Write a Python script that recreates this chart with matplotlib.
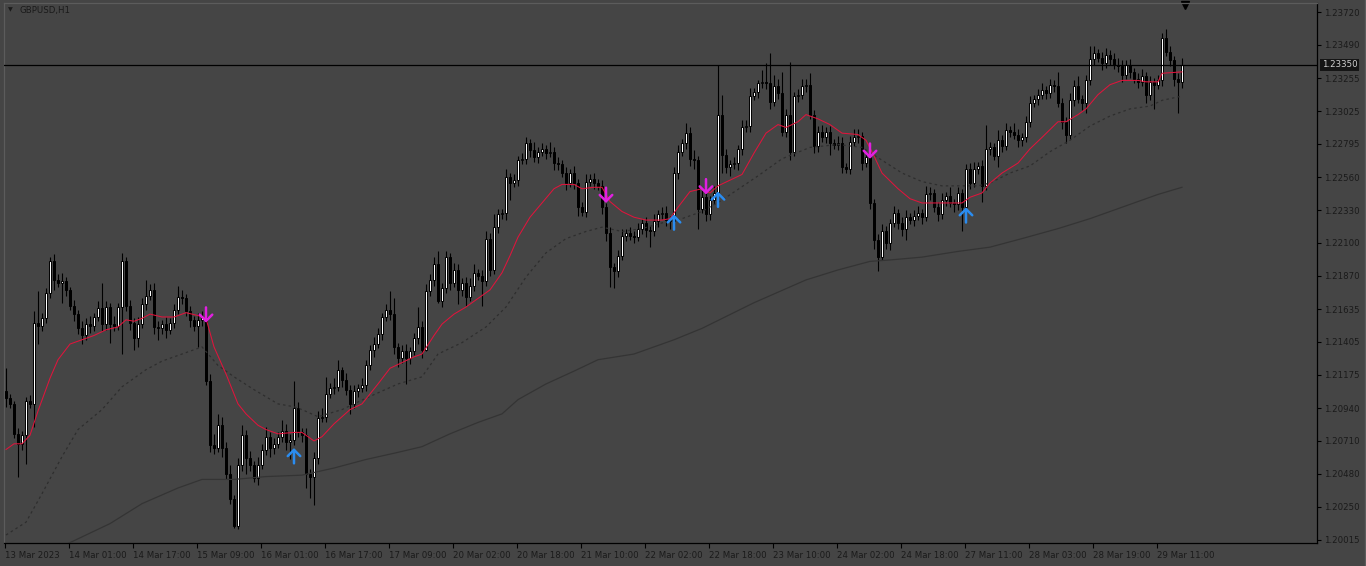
import numpy as np
import matplotlib
matplotlib.use('Agg')
import matplotlib.pyplot as plt
from matplotlib.transforms import blended_transform_factory

# GBPUSD H1, 13 Mar - 29 Mar 2023
symbol = 'GBPUSD,H1'
first_open = 1.2106
closes = [
    1.2101, 1.2097, 1.2076, 1.2069, 1.2075, 1.2099, 1.2097, 1.2154, 1.2152, 1.2157, 1.2175, 1.2197, 1.2184, 1.2182, 1.2183, 1.2177, 1.2166, 1.2160, 1.2150, 1.2145,
    1.2153, 1.2152, 1.2158, 1.2164, 1.2153, 1.2165, 1.2153, 1.2152, 1.2165, 1.2197, 1.2166, 1.2154, 1.2143, 1.2153, 1.2167, 1.2173, 1.2177, 1.2151, 1.2150, 1.2153,
    1.2149, 1.2154, 1.2163, 1.2172, 1.2171, 1.2162, 1.2156, 1.2152, 1.2156, 1.2158, 1.2113, 1.2068, 1.2066, 1.2082, 1.2066, 1.2048, 1.2030, 1.2011, 1.2054, 1.2075,
    1.2059, 1.2054, 1.2045, 1.2054, 1.2065, 1.2074, 1.2066, 1.2069, 1.2074, 1.2078, 1.2070, 1.2072, 1.2094, 1.2077, 1.2075, 1.2048, 1.2046, 1.2059, 1.2087, 1.2088,
    1.2104, 1.2108, 1.2109, 1.2121, 1.2114, 1.2107, 1.2097, 1.2106, 1.2108, 1.2110, 1.2124, 1.2135, 1.2139, 1.2146, 1.2158, 1.2163, 1.2160, 1.2137, 1.2129, 1.2134,
    1.2129, 1.2134, 1.2143, 1.2151, 1.2135, 1.2176, 1.2184, 1.2195, 1.2169, 1.2178, 1.2200, 1.2182, 1.2191, 1.2177, 1.2182, 1.2172, 1.2180, 1.2189, 1.2187, 1.2183,
    1.2213, 1.2191, 1.2221, 1.2230, 1.2231, 1.2256, 1.2252, 1.2254, 1.2268, 1.2269, 1.2280, 1.2275, 1.2270, 1.2274, 1.2276, 1.2273, 1.2274, 1.2266, 1.2265, 1.2259,
    1.2252, 1.2259, 1.2252, 1.2235, 1.2232, 1.2253, 1.2255, 1.2252, 1.2250, 1.2235, 1.2217, 1.2193, 1.2190, 1.2201, 1.2215, 1.2217, 1.2215, 1.2214, 1.2220, 1.2224,
    1.2219, 1.2218, 1.2225, 1.2230, 1.2231, 1.2226, 1.2225, 1.2259, 1.2274, 1.2280, 1.2287, 1.2269, 1.2268, 1.2234, 1.2242, 1.2230, 1.2240, 1.2245, 1.2300, 1.2272,
    1.2263, 1.2265, 1.2266, 1.2276, 1.2291, 1.2292, 1.2313, 1.2316, 1.2322, 1.2323, 1.2322, 1.2309, 1.2320, 1.2315, 1.2288, 1.2300, 1.2274, 1.2313, 1.2314, 1.2320,
    1.2321, 1.2300, 1.2278, 1.2288, 1.2284, 1.2288, 1.2280, 1.2279, 1.2280, 1.2263, 1.2262, 1.2281, 1.2284, 1.2285, 1.2266, 1.2270, 1.2238, 1.2212, 1.2200, 1.2218,
    1.2210, 1.2224, 1.2231, 1.2224, 1.2220, 1.2228, 1.2226, 1.2229, 1.2231, 1.2228, 1.2244, 1.2245, 1.2235, 1.2230, 1.2240, 1.2243, 1.2238, 1.2237, 1.2245, 1.2235,
    1.2262, 1.2252, 1.2262, 1.2264, 1.2250, 1.2276, 1.2277, 1.2271, 1.2282, 1.2278, 1.2289, 1.2288, 1.2286, 1.2282, 1.2284, 1.2295, 1.2308, 1.2311, 1.2314, 1.2317,
    1.2315, 1.2321, 1.2320, 1.2308, 1.2295, 1.2286, 1.2310, 1.2320, 1.2311, 1.2308, 1.2324, 1.2339, 1.2343, 1.2340, 1.2336, 1.2342, 1.2339, 1.2335, 1.2334, 1.2328,
    1.2335, 1.2330, 1.2325, 1.2323, 1.2327, 1.2314, 1.2323, 1.2321, 1.2324, 1.2354, 1.2344, 1.2338, 1.2325, 1.2323, 1.2335,
]
# wick lengths in pips above / below the body
upper_wick = [
    16, 3, 2, 4, 3, 3, 4, 8, 22, 4, 3, 3, 5, 4, 6, 3, 2, 4, 3, 5,
    4, 6, 3, 5, 18, 4, 3, 6, 3, 6, 3, 4, 3, 5, 4, 11, 4, 5, 4, 3,
    5, 3, 4, 8, 5, 3, 4, 3, 5, 4, 7, 5, 8, 8, 6, 4, 6, 3, 5, 7,
    4, 5, 3, 6, 4, 7, 3, 4, 3, 8, 5, 4, 19, 4, 3, 5, 3, 4, 5, 6,
    12, 4, 6, 7, 2, 5, 3, 4, 3, 5, 4, 3, 5, 4, 3, 4, 13, 11, 3, 4,
    5, 3, 4, 14, 4, 5, 4, 5, 9, 4, 4, 3, 5, 4, 3, 4, 5, 6, 3, 4,
    5, 4, 9, 4, 3, 6, 3, 4, 3, 4, 4, 3, 6, 3, 4, 3, 7, 3, 4, 3,
    4, 3, 5, 3, 4, 5, 3, 4, 3, 4, 3, 4, 3, 4, 5, 3, 4, 3, 4, 3,
    4, 3, 5, 3, 4, 5, 3, 4, 5, 3, 7, 4, 6, 3, 5, 4, 3, 5, 35, 14,
    4, 3, 4, 3, 5, 4, 6, 3, 2, 8, 13, 21, 8, 5, 15, 4, 37, 3, 4, 5,
    4, 8, 3, 4, 5, 3, 4, 3, 5, 4, 3, 4, 6, 5, 3, 4, 8, 3, 4, 5,
    4, 3, 5, 3, 4, 5, 3, 4, 5, 3, 6, 4, 3, 4, 5, 3, 6, 3, 4, 3,
    3, 4, 5, 3, 4, 17, 4, 3, 7, 4, 5, 3, 6, 4, 3, 4, 5, 3, 4, 5,
    3, 4, 3, 10, 4, 3, 5, 4, 7, 3, 4, 9, 5, 3, 4, 5, 3, 4, 5, 4,
    3, 4, 3, 4, 5, 3, 4, 3, 4, 3, 6, 4, 3, 4, 5,
]
lower_wick = [
    6, 3, 3, 23, 4, 20, 3, 16, 13, 4, 3, 4, 7, 3, 14, 4, 3, 5, 4, 6,
    3, 5, 4, 3, 5, 4, 13, 4, 3, 33, 4, 5, 8, 6, 3, 4, 3, 5, 8, 4,
    6, 3, 4, 3, 4, 3, 5, 4, 15, 4, 3, 5, 4, 3, 6, 4, 3, 1, 2, 4,
    11, 4, 3, 5, 3, 4, 6, 4, 3, 4, 5, 12, 4, 3, 5, 10, 15, 20, 4, 3,
    4, 3, 4, 3, 5, 4, 7, 3, 4, 3, 4, 3, 5, 3, 4, 3, 4, 5, 6, 3,
    18, 4, 3, 4, 6, 1, 3, 4, 1, 4, 3, 5, 3, 10, 4, 6, 3, 4, 3, 17,
    3, 4, 3, 4, 3, 5, 12, 3, 4, 3, 4, 5, 3, 4, 3, 4, 3, 5, 4, 3,
    5, 3, 4, 6, 3, 4, 3, 4, 3, 5, 6, 14, 12, 4, 3, 4, 3, 4, 3, 4,
    5, 11, 3, 4, 3, 4, 5, 3, 4, 3, 4, 5, 6, 14, 3, 5, 4, 3, 3, 13,
    4, 6, 3, 5, 4, 3, 4, 3, 4, 3, 4, 5, 3, 4, 3, 4, 6, 3, 4, 3,
    4, 3, 5, 4, 3, 4, 8, 3, 4, 4, 3, 4, 3, 4, 5, 3, 4, 6, 10, 2,
    4, 5, 3, 4, 5, 8, 3, 4, 3, 5, 3, 4, 3, 5, 3, 4, 3, 5, 4, 17,
    3, 4, 3, 4, 11, 3, 4, 3, 8, 4, 3, 4, 3, 5, 4, 3, 4, 3, 4, 3,
    4, 3, 4, 3, 5, 6, 3, 4, 3, 5, 7, 3, 4, 3, 5, 3, 4, 3, 4, 5,
    3, 4, 3, 4, 3, 6, 4, 17, 3, 4, 3, 4, 5, 22, 4,
]

# indicator lines, read at sample bars
fast_ma_bars = [0, 2, 4, 6, 8, 11, 13, 16, 19, 22, 25, 28, 30, 32, 34, 36, 39, 42, 45, 48,
                50, 52, 55, 58, 60, 63, 65, 68, 72, 74, 77, 79, 82, 86, 89, 93, 96, 99, 102, 104,
                107, 109, 112, 115, 118, 121, 124, 126, 128, 131, 134, 137, 139, 142, 144, 147, 149, 151, 154, 157,
                160, 164, 166, 168, 171, 174, 176, 178, 181, 184, 187, 190, 193, 195, 198, 200, 203, 206, 209, 213,
                215, 217, 219, 223, 226, 229, 233, 236, 239, 241, 244, 246, 249, 253, 256, 259, 263, 265, 268, 270,
                273, 276, 279, 283, 285, 288, 289, 294]
fast_ma_vals = [1.2065, 1.2069, 1.2069, 1.2075, 1.2092, 1.2115, 1.2128, 1.2139, 1.2142, 1.2145, 1.2149, 1.2151, 1.2156, 1.2155, 1.2157, 1.2160, 1.2158, 1.2158, 1.2161, 1.2159,
                1.2157, 1.2137, 1.2118, 1.2097, 1.2090, 1.2082, 1.2079, 1.2076, 1.2077, 1.2077, 1.2071, 1.2074, 1.2083, 1.2093, 1.2097, 1.2111, 1.2122, 1.2126, 1.2130, 1.2132,
                1.2145, 1.2153, 1.2160, 1.2165, 1.2171, 1.2177, 1.2189, 1.2201, 1.2214, 1.2228, 1.2238, 1.2248, 1.2251, 1.2251, 1.2248, 1.2249, 1.2249, 1.2239, 1.2232, 1.2228,
                1.2226, 1.2226, 1.2227, 1.2235, 1.2246, 1.2248, 1.2245, 1.2250, 1.2254, 1.2258, 1.2273, 1.2287, 1.2293, 1.2291, 1.2295, 1.2300, 1.2297, 1.2293, 1.2287, 1.2286,
                1.2282, 1.2271, 1.2259, 1.2248, 1.2241, 1.2238, 1.2238, 1.2238, 1.2238, 1.2242, 1.2245, 1.2252, 1.2259, 1.2266, 1.2276, 1.2284, 1.2295, 1.2295, 1.2300, 1.2304,
                1.2314, 1.2321, 1.2324, 1.2324, 1.2323, 1.2323, 1.2329, 1.2330]

mid_ma_bars = [0, 5, 9, 14, 18, 24, 29, 35, 39, 44, 49, 53, 57, 62, 68, 72, 74, 78, 84, 90,
               98, 104, 108, 114, 120, 125, 130, 135, 140, 145, 149, 154, 159, 164, 169, 174, 179, 188, 194, 201,
               208, 214, 219, 224, 229, 234, 239, 243, 246, 251, 256, 261, 266, 271, 276, 281, 286, 289, 294]
mid_ma_vals = [1.2005, 1.2014, 1.2034, 1.2060, 1.2079, 1.2093, 1.2109, 1.2121, 1.2127, 1.2132, 1.2137, 1.2124, 1.2116, 1.2107, 1.2097, 1.2095, 1.2093, 1.2088, 1.2093, 1.2101,
               1.2111, 1.2116, 1.2132, 1.2140, 1.2151, 1.2165, 1.2186, 1.2203, 1.2213, 1.2218, 1.2221, 1.2218, 1.2220, 1.2224, 1.2227, 1.2232, 1.2240, 1.2257, 1.2269, 1.2277,
               1.2279, 1.2277, 1.2268, 1.2259, 1.2253, 1.2250, 1.2250, 1.2250, 1.2252, 1.2259, 1.2264, 1.2274, 1.2282, 1.2292, 1.2299, 1.2304, 1.2306, 1.2310, 1.2313]

slow_ma_bars = [14, 26, 34, 43, 49, 57, 65, 74, 82, 90, 98, 104, 111, 118, 124, 128, 135, 142, 148, 157,
                162, 167, 174, 187, 200, 208, 216, 221, 229, 238, 246, 254, 263, 271, 279, 288, 294]
slow_ma_vals = [1.1997, 1.2013, 1.2027, 1.2038, 1.2044, 1.2044, 1.2046, 1.2047, 1.2052, 1.2058, 1.2063, 1.2067, 1.2076, 1.2084, 1.2090, 1.2100, 1.2111, 1.2120, 1.2128, 1.2132,
                1.2137, 1.2142, 1.2150, 1.2168, 1.2184, 1.2191, 1.2197, 1.2198, 1.2200, 1.2204, 1.2207, 1.2213, 1.2220, 1.2227, 1.2235, 1.2244, 1.2249]

sell_bars = [50, 150, 175, 216]
sell_prices = [1.2154, 1.2238, 1.2244, 1.2269]
buy_bars = [72, 167, 178, 240]
buy_prices = [1.2066, 1.2230, 1.2246, 1.2235]

time_labels = ['13 Mar 2023', '14 Mar 01:00', '14 Mar 17:00', '15 Mar 09:00', '16 Mar 01:00',
               '16 Mar 17:00', '17 Mar 09:00', '20 Mar 02:00', '20 Mar 18:00', '21 Mar 10:00',
               '22 Mar 02:00', '22 Mar 18:00', '23 Mar 10:00', '24 Mar 02:00', '24 Mar 18:00',
               '27 Mar 11:00', '28 Mar 03:00', '28 Mar 19:00', '29 Mar 11:00']
price_ticks = [1.23720, 1.23490, 1.23255, 1.23025, 1.22795, 1.22560, 1.22330, 1.22100, 1.21870,
               1.21635, 1.21405, 1.21175, 1.20940, 1.20710, 1.20480, 1.20250, 1.20015]
last_price = 1.23350

bg = '#454545'
txt = '#1a1a1a'
plt.rcParams['font.family'] = ['DejaVu Sans']

closes = np.array(closes)
opens = np.r_[first_open, closes[:-1]]
highs = np.maximum(opens, closes) + np.array(upper_wick) * 0.0001
lows = np.minimum(opens, closes) - np.array(lower_wick) * 0.0001
x = np.arange(len(closes))
bull = closes >= opens

fig = plt.figure(figsize=(13.66, 5.66), dpi=100, facecolor=bg)
ax = fig.add_axes([4 / 1366, 23 / 566, 1313 / 1366, 540 / 566], facecolor=bg)

# candles
ax.vlines(x, lows, highs, color='black', lw=0.8, zorder=2)
body_lo = np.minimum(opens, closes)
body_h = np.maximum(np.abs(closes - opens), 0.00002)
ax.bar(x[bull], body_h[bull], bottom=body_lo[bull], width=0.72,
       color='white', edgecolor='black', lw=0.7, zorder=3)
ax.bar(x[~bull], body_h[~bull], bottom=body_lo[~bull], width=0.72,
       color='black', edgecolor='black', lw=0.7, zorder=3)

# moving averages
ax.plot(slow_ma_bars, slow_ma_vals, color='#343434', lw=0.9, zorder=4)
ax.plot(mid_ma_bars, mid_ma_vals, color='#2e2e2e', lw=0.9, ls=(0, (2, 2.5)), zorder=4)
ax.plot(fast_ma_bars, fast_ma_vals, color='#e0143c', lw=0.75, zorder=5)

# signal arrows
for b, p in zip(sell_bars, sell_prices):
    ax.annotate('', xy=(b, p), xytext=(0, 11), textcoords='offset points',
                arrowprops=dict(arrowstyle='->,head_length=0.45,head_width=0.45', color='#e020e0',
                                lw=1.8, mutation_scale=10, shrinkA=0, shrinkB=0), zorder=6)
for b, p in zip(buy_bars, buy_prices):
    ax.annotate('', xy=(b, p), xytext=(0, -11), textcoords='offset points',
                arrowprops=dict(arrowstyle='->,head_length=0.45,head_width=0.45', color='#2a8cf0',
                                lw=1.8, mutation_scale=10, shrinkA=0, shrinkB=0), zorder=6)

# current price
ax.axhline(last_price, color='black', lw=0.9, zorder=5)
tr = blended_transform_factory(ax.transAxes, ax.transData)
ax.annotate('%.5f' % last_price, xy=(1, last_price), xycoords=tr, xytext=(3.5, 0),
            textcoords='offset points', ha='left', va='center', fontsize=6.2, color='#d0d0d0',
            bbox=dict(boxstyle='square,pad=0.2', fc='#151515', ec='none'), annotation_clip=False)

# chart shift marker at the top
trx = blended_transform_factory(ax.transData, ax.transAxes)
ax.plot([294.75], [0.997], marker='v', ms=6, color='black', transform=trx, clip_on=False)

ax.set_xlim(-0.5, 327.75)
ax.set_ylim(1.199939, 1.237832)

ax.yaxis.tick_right()
ax.set_yticks(price_ticks)
ax.set_yticklabels(['%.5f' % v for v in price_ticks])
ax.tick_params(axis='y', direction='out', length=3, width=0.8, color='black',
               labelsize=6.2, labelcolor=txt, pad=2)
ax.set_xticks(np.arange(len(time_labels)) * 16 - 0.25)
ax.set_xticklabels(time_labels)
ax.tick_params(axis='x', direction='out', length=3.5, width=0.8, color='black',
               labelsize=6.2, labelcolor=txt, pad=2)
for lab in ax.get_xticklabels():
    lab.set_ha('left')

for s in ['right', 'bottom']:
    ax.spines[s].set_color('black')
    ax.spines[s].set_linewidth(0.9)
for s in ['left', 'top']:
    ax.spines[s].set_color('#5c5c5c')
    ax.spines[s].set_linewidth(0.9)

fig.text(8 / 1366, 1 - 10 / 566, '\u25bc', fontsize=4.5, color=txt, va='center')
fig.text(20 / 1366, 1 - 10 / 566, symbol, fontsize=6.2, color=txt, va='center')
fig.add_artist(plt.Line2D([1364.5 / 1366] * 2, [0, 1], transform=fig.transFigure, color='#5c5c5c', lw=1))

fig.savefig('out.png', dpi=100, facecolor=bg)
